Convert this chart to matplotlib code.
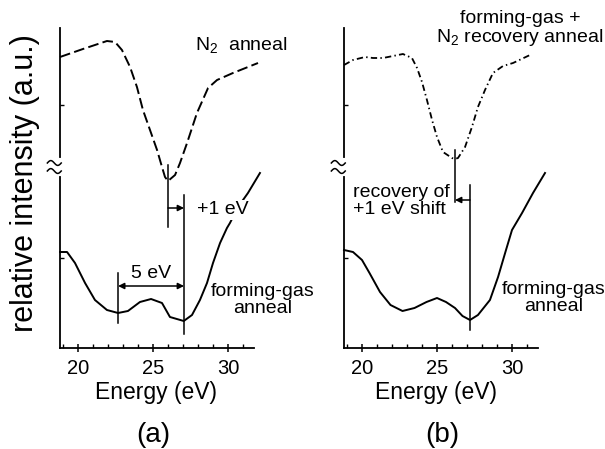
import numpy as np
import matplotlib
matplotlib.use("Agg")
import matplotlib.pyplot as plt
import matplotlib.transforms as mtransforms

plt.rcParams['font.family'] = ['Liberation Sans', 'DejaVu Sans']
plt.rcParams['mathtext.fontset'] = 'custom'
plt.rcParams['mathtext.rm'] = 'Liberation Sans'
plt.rcParams['mathtext.it'] = 'Liberation Sans:italic'

# ---- data (energy in eV, intensity in a.u.) ----
# panel (a): N2 anneal (dashed)
e_n2 = [18.8, 20.33, 21.93, 22.47, 22.93, 23.47, 23.93, 24.33, 24.8, 25.27,
        25.6, 25.8, 26.0, 26.47, 26.8, 27.27, 27.93, 28.67, 29.27, 30.33, 32.0]
i_n2 = [291, 299, 307, 306, 298, 281, 261, 238, 218, 198,
        181, 171, 167, 173, 185, 205, 235, 260, 268, 275, 285]

# panel (a): forming-gas anneal (solid)
e_fga = [18.8, 19.27, 19.8, 20.47, 21.13, 21.93, 22.67, 23.33, 24.13, 24.87,
         25.6, 26.13, 27.05, 27.6, 28.13, 28.6, 29.0, 29.47, 29.93, 30.13,
         30.67, 31.33, 32.13]
i_fga = [96, 96, 85, 65, 48, 38, 35, 37, 46, 49,
         45, 31, 27, 33, 48, 65, 85, 105, 120, 125,
         141, 155, 175]

# panel (b): forming-gas + N2 recovery anneal (dash-dot)
e_rec = [18.8, 19.4, 20.2, 20.73, 21.4, 22.07, 22.73, 23.33, 23.67, 24.0,
         24.33, 24.67, 25.0, 25.4, 26.0, 26.2, 26.4, 26.87, 27.33, 27.73,
         28.2, 28.73, 29.4, 30.07, 31.2]
i_rec = [283, 288, 291, 290, 290, 292, 294, 290, 280, 266,
         248, 228, 211, 196, 190, 189, 190, 201, 221, 241,
         258, 275, 282, 285, 293]

# panel (b): forming-gas anneal (solid)
e_fgb = [18.8, 19.4, 20.0, 20.5, 21.2, 21.9, 22.7, 23.5, 24.3, 25.0,
         25.6, 26.2, 26.7, 27.2, 27.73, 28.53, 29.07, 29.6, 30.0, 30.67,
         31.4, 32.2]
i_fgb = [98, 96, 88, 75, 56, 43, 37, 40, 46, 50,
         46, 40, 32, 28, 33, 48, 71, 98, 118, 135,
         155, 175]

xticks_major = [20, 25, 30]
xticks_minor = list(range(19, 32))

# marker positions (eV)
a_n2_min, a_fg_min, a_fg_min1 = 26.0, 27.07, 22.67
b_rec_min, b_fg_min = 26.2, 27.2

fig = plt.figure(figsize=(6.05, 4.49), dpi=100)
W, H = 605.0, 449.0


def make_axes(left_px):
    ax = fig.add_axes([left_px / W, (H - 348) / H, 204 / W, 320 / H])
    ax.set_xlim(18.8, 32.4)
    ax.set_ylim(0, 320)
    for s in ['top', 'right']:
        ax.spines[s].set_visible(False)
    ax.spines['bottom'].set_bounds(18.8, 31.72)
    ax.spines['left'].set_linewidth(1.3)
    ax.spines['bottom'].set_linewidth(1.3)
    ax.set_xticks(xticks_major)
    ax.set_xticks(xticks_minor, minor=True)
    ax.set_yticks([90, 243])
    ax.set_yticklabels([])
    ax.tick_params(axis='x', which='major', direction='inout', length=6, width=1.1,
                   labelsize=14.5, pad=5)
    ax.tick_params(axis='x', which='minor', direction='in', length=3, width=1)
    ax.tick_params(axis='y', direction='in', length=3, width=1)
    # axis break mark on left spine
    tr = mtransforms.blended_transform_factory(ax.transAxes, ax.transData)
    ax.plot([0, 0], [174, 188], color='white', lw=3, transform=tr,
            clip_on=False, zorder=5)
    t = np.linspace(0, 1, 30)
    for yb in (177, 185):
        ax.plot(-0.062 + 0.068 * t, yb + 2.4 * np.sin(2 * np.pi * t), color='black',
                lw=1.1, transform=tr, clip_on=False, zorder=6)
    return ax


# ---------------- panel (a) ----------------
ax1 = make_axes(60)
ax1.plot(e_n2, i_n2, color='black', lw=1.4, dashes=(5.5, 2.2), clip_on=False)
ax1.plot(e_fga, i_fga, color='black', lw=1.4, clip_on=False)
ax1.plot([a_n2_min, a_n2_min], [183, 121], color='black', lw=1.1)
ax1.plot([a_fg_min, a_fg_min], [153, 14], color='black', lw=1.1)
ax1.plot([a_fg_min1, a_fg_min1], [75, 25], color='black', lw=1.1)
ax1.annotate('', xy=(a_fg_min, 140), xytext=(a_n2_min, 140),
             arrowprops=dict(arrowstyle='-|>', lw=1.1, color='black',
                             shrinkA=0, shrinkB=0, mutation_scale=9))
ax1.annotate('', xy=(a_fg_min, 62), xytext=(a_fg_min1, 62),
             arrowprops=dict(arrowstyle='<|-|>', lw=1.1, color='black',
                             shrinkA=0, shrinkB=0, mutation_scale=9))
ax1.text(24.85, 75, '5 eV', ha='center', va='center', fontsize=14)
ax1.text(27.93, 138, '+1 eV', ha='left', va='center', fontsize=14, zorder=4,
         bbox=dict(facecolor='white', edgecolor='none', pad=1))
ax1.text(27.8, 303, r'N$_2$  anneal', ha='left', va='center', fontsize=14)
ax1.text(32.3, 48, 'forming-gas\nanneal', ha='center', va='center', fontsize=14,
         linespacing=1.0)

# ---------------- panel (b) ----------------
ax2 = make_axes(344)
ax2.plot(e_rec, i_rec, color='black', lw=1.3, dashes=(3.5, 1.8, 0.8, 1.8), clip_on=False)
ax2.plot(e_fgb, i_fgb, color='black', lw=1.4, clip_on=False)
ax2.plot([b_rec_min, b_rec_min], [198, 146], color='black', lw=1.1)
ax2.plot([b_fg_min, b_fg_min], [163, 18], color='black', lw=1.1)
ax2.annotate('', xy=(b_rec_min, 148), xytext=(b_fg_min, 148),
             arrowprops=dict(arrowstyle='-|>', lw=1.1, color='black',
                             shrinkA=0, shrinkB=0, mutation_scale=9))
ax2.text(19.4, 147, 'recovery of\n+1 eV shift', ha='left', va='center',
         fontsize=14, linespacing=1.0)
ax2.text(30.53, 319, 'forming-gas +\n' + r'N$_2$ recovery anneal', ha='center',
         va='center', fontsize=14, linespacing=1.0)
ax2.text(32.8, 50, 'forming-gas\nanneal', ha='center', va='center', fontsize=14,
         linespacing=1.0)

# ---------------- labels ----------------
fig.text(25 / W, 1 - 183 / H, 'relative intensity (a.u.)', rotation=90,
         ha='center', va='center', fontsize=22)
fig.text(156 / W, 1 - 392 / H, 'Energy (eV)', ha='center', va='center', fontsize=16.5)
fig.text(436 / W, 1 - 392 / H, 'Energy (eV)', ha='center', va='center', fontsize=16.5)
fig.text(153 / W, 1 - 435 / H, '(a)', ha='center', va='center', fontsize=20)
fig.text(442 / W, 1 - 435 / H, '(b)', ha='center', va='center', fontsize=20)

fig.savefig('out.png', dpi=100)
